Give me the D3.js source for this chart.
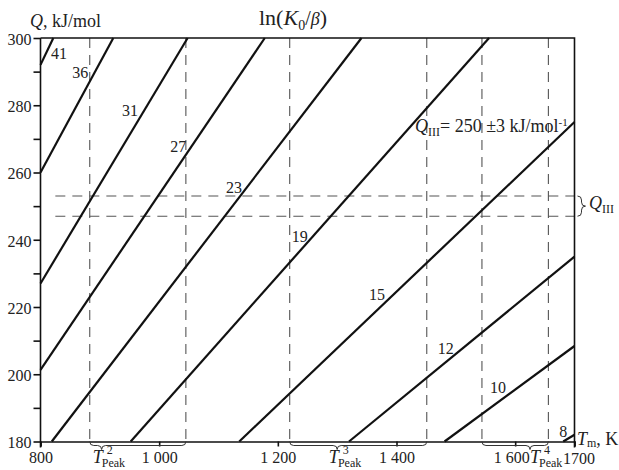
<!DOCTYPE html>
<html>
<head>
<meta charset="utf-8">
<script src="https://cdn.jsdelivr.net/npm/d3@7"></script>
<style>
  body { margin: 0; background: #fff; }
  text { font-family: 'Liberation Serif', 'Times New Roman', serif; fill: #222; }
</style>
</head>
<body>
<div id="chart"></div>
<script>
// ln(K0/beta) value of each line and its two end points (T in K, Q in kJ/mol)
const lnK0beta = [41, 36, 31, 27, 23, 19, 15, 12, 10, 8]
const startT = [800, 800, 800, 800, 819, 952, 1135, 1320, 1481, 1681]
const startQ = [292, 260, 227, 201.3, 180, 180, 180, 180, 180, 180]
const endT = [821.6, 922.7, 1048, 1178, 1341, 1556, 1700, 1700, 1700, 1700]
const endQ = [300, 300, 300, 300, 300, 300, 275, 235, 208.4, 182]
// where each line number is written
const labelT = [831, 867, 951, 1032, 1126, 1237, 1367, 1483, 1571, 1681]
const labelQ = [295.5, 289.8, 278.5, 267.8, 255.7, 241.1, 223.6, 207.8, 196, 182.9]

// peak temperature bands (dashed verticals), brace tips and names
const tPeakLines = [883, 1045, 1220, 1451, 1544, 1656]
const tPeakTip = [903, 1300, 1625]
const tPeakLabelT = [888, 1286, 1625]
const tPeakNames = ['2', '3', '4']

// Q_III = 250 +- 3
const qBand = [247, 253]

const yTicks = [180, 190, 200, 210, 220, 230, 240, 250, 260, 270, 280, 290, 300]
const xTicks = [800, 1000, 1200, 1400, 1600, 1700]
const xTickLabels = ['800', '1 000', '1 200', '1 400', '1 600', '1700']

const W = 619
const H = 470
const margin = { top: 38, right: 44.5, bottom: 28.5, left: 40.5 }
const width = W - margin.left - margin.right
const height = H - margin.top - margin.bottom

const x = d3.scaleLinear().domain([800, 1700]).range([margin.left, margin.left + width])
const y = d3.scaleLinear().domain([180, 300]).range([margin.top + height, margin.top])

const svg = d3.select('#chart').append('svg')
  .attr('width', W)
  .attr('height', H)

// dashed guides
const guides = svg.append('g')
  .attr('stroke', '#555')
  .attr('stroke-width', 1.1)
  .attr('stroke-dasharray', '10,7')
  .attr('fill', 'none')

guides.selectAll('.vg')
  .data(tPeakLines)
  .enter().append('line')
  .attr('x1', d => x(d)).attr('x2', d => x(d))
  .attr('y1', y(300)).attr('y2', y(180))

guides.selectAll('.hg')
  .data(qBand)
  .enter().append('line')
  .attr('x1', x(825)).attr('x2', x(1700))
  .attr('y1', d => y(d)).attr('y2', d => y(d))

// the lines
svg.append('g')
  .selectAll('line')
  .data(lnK0beta)
  .enter().append('line')
  .attr('x1', (d, i) => x(startT[i]))
  .attr('y1', (d, i) => y(startQ[i]))
  .attr('x2', (d, i) => x(endT[i]))
  .attr('y2', (d, i) => y(endQ[i]))
  .attr('stroke', '#111')
  .attr('stroke-width', 2.2)

svg.append('g')
  .selectAll('text')
  .data(lnK0beta)
  .enter().append('text')
  .attr('x', (d, i) => x(labelT[i]))
  .attr('y', (d, i) => y(labelQ[i]))
  .attr('dy', '0.35em')
  .attr('text-anchor', 'middle')
  .attr('font-size', 16)
  .text(d => d)

// frame: top and right border
svg.append('path')
  .attr('d', `M${x(800)},${y(300)}H${x(1700)}V${y(180) + 6}`)
  .attr('fill', 'none')
  .attr('stroke', '#111')
  .attr('stroke-width', 1.6)

// axes
const yAxis = svg.append('g')
  .attr('transform', `translate(${x(800)},0)`)
  .call(d3.axisLeft(y).tickValues(yTicks).tickSize(7).tickPadding(2)
    .tickFormat(d => d % 20 === 0 ? d : ''))
yAxis.select('.domain').attr('d', `M0,${y(300)}V${y(180) + 6}`)

const xAxis = svg.append('g')
  .attr('transform', `translate(0,${y(180)})`)
  .call(d3.axisBottom(x).tickValues(xTicks).tickSize(5).tickPadding(5)
    .tickFormat((d, i) => xTickLabels[i]))

svg.selectAll('.domain, .tick line').attr('stroke', '#111').attr('stroke-width', 1.6)
svg.selectAll('.tick text')
  .attr('font-family', "'Liberation Serif', 'Times New Roman', serif")
  .attr('font-size', 16)
  .attr('fill', '#222')
yAxis.selectAll('.tick text').attr('dy', '0.4em')
xAxis.selectAll('.tick text').filter((d) => d === 1600).attr('dx', -4)
xAxis.selectAll('.tick text').filter((d) => d === 1700).attr('dx', 4).attr('dy', '0.78em')

// braces
const braceG = svg.append('g').attr('fill', 'none').attr('stroke', '#333').attr('stroke-width', 1)
const hBrace = (x1, x2, xt, y0) => {
  const r = 4
  return `M${x1},${y0} Q${x1},${y0 + r} ${x1 + r},${y0 + r} L${xt - r},${y0 + r} ` +
    `Q${xt},${y0 + r} ${xt},${y0 + 2 * r} Q${xt},${y0 + r} ${xt + r},${y0 + r} ` +
    `L${x2 - r},${y0 + r} Q${x2},${y0 + r} ${x2},${y0}`
}
tPeakTip.forEach((t, i) => {
  braceG.append('path').attr('d', hBrace(x(tPeakLines[2 * i]), x(tPeakLines[2 * i + 1]), x(t), y(180)))
})
const vBrace = (y1, y2, yt, x0) => {
  const r = 4
  return `M${x0},${y1} Q${x0 + r},${y1} ${x0 + r},${y1 + r} L${x0 + r},${yt - r} ` +
    `Q${x0 + r},${yt} ${x0 + 2 * r},${yt} Q${x0 + r},${yt} ${x0 + r},${yt + r} ` +
    `L${x0 + r},${y2 - r} Q${x0 + r},${y2} ${x0},${y2}`
}
braceG.append('path').attr('d', vBrace(y(qBand[1]), y(qBand[0]), y(250), x(1700) + 3))

// T_Peak labels
tPeakNames.forEach((n, i) => {
  const x0 = x(tPeakLabelT[i])
  const t = svg.append('text').attr('x', x0).attr('y', 463).attr('font-size', 18)
  t.append('tspan').attr('font-style', 'italic').text('T')
  t.append('tspan').attr('font-size', 12).attr('dy', 4).attr('dx', -1).text('Peak')
  t.append('tspan').attr('font-size', 12).attr('x', x0 + 14).attr('dy', -13).text(n)
})

// title
const title = svg.append('text').attr('x', 293).attr('y', 25)
  .attr('text-anchor', 'middle').attr('font-size', 22)
title.append('tspan').text('ln(')
title.append('tspan').attr('font-style', 'italic').text('K')
title.append('tspan').attr('font-size', 14).attr('dy', 5).text('0')
title.append('tspan').attr('font-size', 20).attr('dy', -5).text('/')
title.append('tspan').attr('font-size', 18).attr('font-style', 'italic').text('β')
title.append('tspan').text(')')

// y label
const yl = svg.append('text').attr('x', 30).attr('y', 27).attr('font-size', 18)
yl.append('tspan').attr('font-style', 'italic').text('Q')
yl.append('tspan').text(', kJ/mol')

// x label
const xl = svg.append('text').attr('x', 577).attr('y', 445).attr('font-size', 18)
xl.append('tspan').attr('font-style', 'italic').text('T')
xl.append('tspan').attr('font-size', 12).attr('dy', 2).text('m')
xl.append('tspan').attr('dy', -2).text(', K')

// Q_III label at brace
const ql = svg.append('text').attr('x', 589).attr('y', 209).attr('font-size', 18)
ql.append('tspan').attr('font-style', 'italic').text('Q')
ql.append('tspan').attr('font-size', 12).attr('dy', 4).text('III')

// Q_III annotation
const qa = svg.append('text').attr('x', 415).attr('y', 132).attr('font-size', 18)
qa.append('tspan').attr('font-style', 'italic').text('Q')
qa.append('tspan').attr('font-size', 12).attr('dy', 4).text('III')
qa.append('tspan').attr('dy', -4).text('= 250 ±3 kJ/mol')
qa.append('tspan').attr('font-size', 11).attr('dy', -6).text('-1')
</script>
</body>
</html>
